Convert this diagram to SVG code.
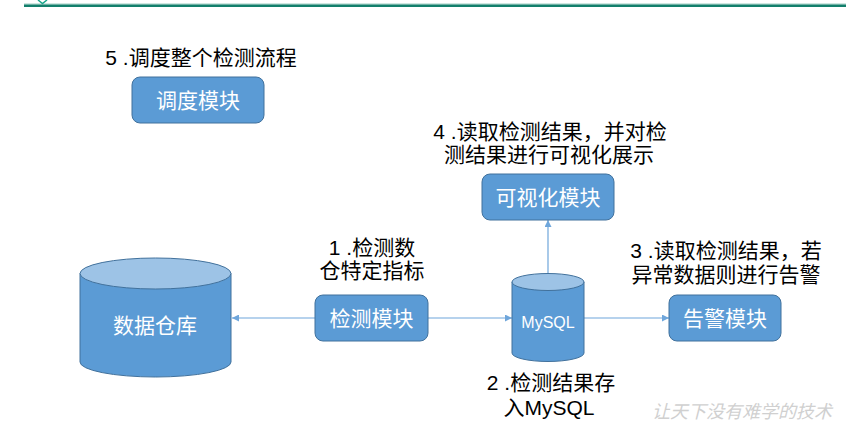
<svg xmlns="http://www.w3.org/2000/svg" width="846" height="431" viewBox="0 0 846 431">
  <style>
    .box { fill: #5B9BD5; stroke: #41719C; stroke-width: 1; }
    .cyl { fill: #5B9BD5; stroke: #41719C; stroke-width: 1; }
    .cyltop { fill: #9DC3E6; stroke: #41719C; stroke-width: 1; }
    .btxt { font-family: "Noto Sans CJK SC", "Liberation Sans", sans-serif; font-size: 21px; fill: #ffffff; text-anchor: middle; }
    .lbl { font-family: "Liberation Sans", "Noto Sans CJK SC", sans-serif; font-size: 21px; fill: #000000; text-anchor: middle; }
    .conn { stroke: #6FA6DB; stroke-width: 1.2; fill: none; }
    .wm { font-family: "Noto Sans CJK SC", sans-serif; font-size: 18px; fill: #d0d0d0; font-style: italic; }
  </style>
  <defs>
    <marker id="arr" viewBox="0 0 10 10" refX="10" refY="5" markerWidth="7" markerHeight="7" markerUnits="userSpaceOnUse" orient="auto">
      <path d="M0,0 L10,5 L0,10 z" fill="#6FA6DB"/>
    </marker>
  </defs>
  <rect width="846" height="431" fill="#ffffff"/>
  <g id="header">
    <rect x="24" y="3.5" width="822" height="1" fill="#9fd0c4"/>
    <rect x="24" y="4.5" width="822" height="2.5" fill="#137f6c"/>
    <path d="M38,0 L42.5,3.5 L47,0" stroke="#1aa58c" stroke-width="1.5" fill="none"/>
  </g>

  <g id="connectors">
    <line class="conn" x1="315" y1="318" x2="232" y2="318" marker-end="url(#arr)"/>
    <line class="conn" x1="428" y1="318" x2="512" y2="318" marker-end="url(#arr)"/>
    <line class="conn" x1="584" y1="318" x2="669" y2="318" marker-end="url(#arr)"/>
    <line class="conn" x1="548" y1="274" x2="548" y2="220" marker-end="url(#arr)"/>
  </g>

  <g id="scheduler">
    <rect class="box" x="132" y="77" width="132" height="46" rx="8"/>
    <text class="btxt" x="198" y="108">调度模块</text>
    <text class="lbl" x="201" y="65">5 .调度整个检测流程</text>
  </g>

  <g id="visual">
    <rect class="box" x="482" y="174" width="132" height="46" rx="8"/>
    <text class="btxt" x="548" y="205">可视化模块</text>
    <text class="lbl" x="550" y="139">4 .读取检测结果，并对检</text>
    <text class="lbl" x="549" y="162">测结果进行可视化展示</text>
  </g>

  <g id="warehouse">
    <path class="cyl" d="M80,273.5 L80,362 A75.5,15 0 0 0 231,362 L231,273.5 Z"/>
    <ellipse class="cyltop" cx="155.5" cy="273.5" rx="75.5" ry="15.5"/>
    <text class="btxt" x="155" y="333">数据仓库</text>
  </g>

  <g id="detect">
    <rect class="box" x="315" y="295" width="113" height="46" rx="8"/>
    <text class="btxt" x="371.5" y="326">检测模块</text>
    <text class="lbl" x="372" y="255">1 .检测数</text>
    <text class="lbl" x="372" y="278">仓特定指标</text>
  </g>

  <g id="mysql">
    <path class="cyl" d="M512,282 L512,353 A36,8.5 0 0 0 584,353 L584,282 Z"/>
    <ellipse class="cyltop" cx="548" cy="282" rx="36" ry="8.5"/>
    <text x="548" y="328" font-family="Liberation Sans, sans-serif" font-size="16" fill="#ffffff" text-anchor="middle">MySQL</text>
    <text class="lbl" x="551" y="390">2 .检测结果存</text>
    <text class="lbl" x="549" y="415">入MySQL</text>
  </g>

  <g id="alert">
    <rect class="box" x="669" y="295" width="112" height="46" rx="8"/>
    <text class="btxt" x="725" y="326">告警模块</text>
    <text class="lbl" x="726" y="258">3 .读取检测结果，若</text>
    <text class="lbl" x="726" y="282">异常数据则进行告警</text>
  </g>

  <text class="wm" x="652" y="418">让天下没有难学的技术</text>
</svg>
